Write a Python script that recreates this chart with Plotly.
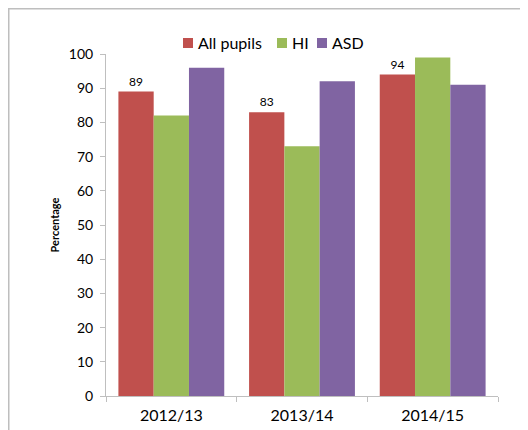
import plotly.graph_objects as go

categories = ["2012/13", "2013/14", "2014/15"]
all_pupils = [89, 83, 94]
hi = [82, 73, 99]
asd = [96, 92, 91]
series_names = ["All pupils", "HI", "ASD"]
colors = ["#C0504D", "#9BBB59", "#8064A2"]

FONT = "Lato, Open Sans, sans-serif"

# figure geometry (page is offset by the 8px body margin)
OFF = 8
ML, MR, MT, MB = 98, 38, 46, 42
W, H = 528, 430
PW, PH = W - ML - MR, H - MT - MB


def px(x):
    return (x - OFF - ML) / PW


def py(y):
    return (H - MB - (y - OFF)) / PH


fig = go.Figure()
fig.add_trace(go.Bar(x=categories, y=all_pupils, name=series_names[0],
                     marker=dict(color=colors[0], line=dict(width=0)),
                     text=[str(v) for v in all_pupils], textposition="outside",
                     textfont=dict(size=12, color="#000000", family=FONT),
                     cliponaxis=False))
fig.add_trace(go.Bar(x=categories, y=hi, name=series_names[1],
                     marker=dict(color=colors[1], line=dict(width=0))))
fig.add_trace(go.Bar(x=categories, y=asd, name=series_names[2],
                     marker=dict(color=colors[2], line=dict(width=0))))

# manual legend (square + label)
legend_sq_left = [183, 277, 317]
shapes = [dict(type="rect", xref="paper", yref="paper",
               x0=(0.75 - ML) / PW, x1=(540 - OFF - ML) / PW,
               y0=(H - MB - 440) / PH, y1=(H - MB - 0.75) / PH,
               line=dict(color="#BEBEBE", width=1.5), fillcolor="rgba(0,0,0,0)", layer="below")]
annotations = []
for name, col, x0 in zip(series_names, colors, legend_sq_left):
    shapes.append(dict(type="rect", xref="paper", yref="paper",
                       x0=px(x0), x1=px(x0 + 10), y0=py(48), y1=py(38),
                       line=dict(width=0), fillcolor=col))
    annotations.append(dict(text=name, xref="paper", yref="paper", x=px(x0 + 13), y=py(43),
                            xanchor="left", yanchor="middle", showarrow=False,
                            font=dict(size=16, family=FONT, color="#000000")))

fig.update_layout(
    width=W, height=H,
    margin=dict(l=ML, r=MR, t=MT, b=MB),
    paper_bgcolor="white", plot_bgcolor="white",
    font=dict(family=FONT, color="#000000"),
    barmode="group", bargap=0.19, bargroupgap=0,
    showlegend=False,
    xaxis=dict(showline=True, linecolor="#BFBFBF", linewidth=1,
               ticks="outside", tickson="boundaries", ticklen=5, tickcolor="#BFBFBF",
               tickfont=dict(size=16, family=FONT), showgrid=False, fixedrange=True,
               ticklabelstandoff=5),
    yaxis=dict(range=[0, 100], dtick=10, showline=True, linecolor="#BFBFBF", linewidth=1,
               ticks="outside", ticklen=5, tickcolor="#BFBFBF", showgrid=False,
               zeroline=False, tickfont=dict(size=14, family=FONT), ticklabelstandoff=4,
               title=dict(text="<b>Percentage</b>", font=dict(size=11, family=FONT), standoff=6)),
    shapes=shapes,
    annotations=annotations,
)

fig.write_html("out.html")
